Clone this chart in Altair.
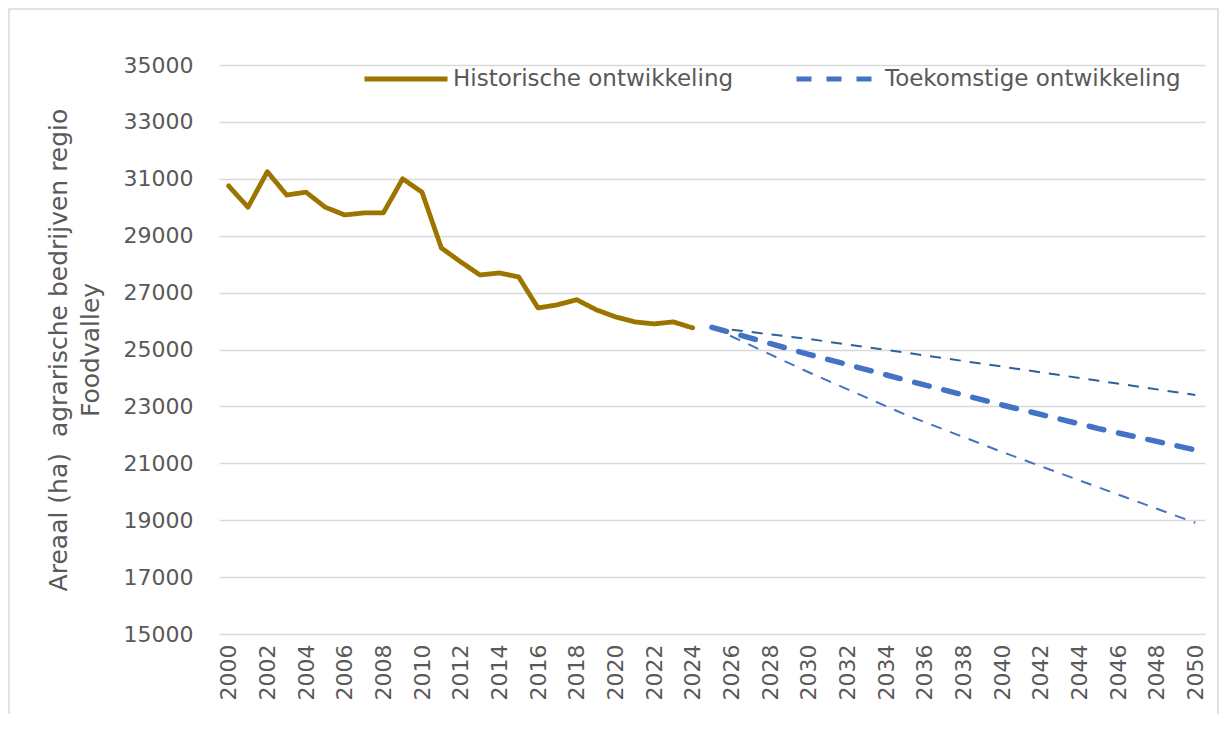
import altair as alt
import pandas as pd

# ---- data ----
hist_years = [2000, 2001, 2002, 2003, 2004, 2005, 2006, 2007, 2008, 2009,
              2010, 2011, 2012, 2013, 2014, 2015, 2016, 2017, 2018, 2019,
              2020, 2021, 2022, 2023, 2024]
hist_values = [30750, 30000, 31250, 30430, 30530, 30000, 29730, 29800, 29800, 31000,
               30530, 28570, 28080, 27620, 27690, 27550, 26460, 26570, 26750, 26400,
               26150, 25970, 25900, 25970, 25760]

proj_years = [2025, 2030, 2035, 2040, 2045, 2050]
proj_mid = [25780, 24830, 23930, 23050, 22220, 21470]
proj_high = [25780, 25370, 24890, 24400, 23900, 23400]
proj_low = [25780, 24200, 22710, 21400, 20150, 18910]

x_ticks = list(range(2000, 2051, 2))
y_ticks = list(range(15000, 35001, 2000))

HIST = "Historische ontwikkeling"
FUT = "Toekomstige ontwikkeling"
Y_TITLE = ["Areaal (ha)\u00a0 agrarische bedrijven regio", "Foodvalley"]

GOLD = "#9C7500"
BLUE = "#4472C4"
DARKBLUE = "#2C6199"
TEXT = "#595959"
GRID = "#D9D9D9"
FONT = "DejaVu Sans"

hist_df = pd.DataFrame({"jaar": hist_years, "areaal": hist_values, "reeks": [HIST] * len(hist_years)})
mid_df = pd.DataFrame({"jaar": proj_years, "areaal": proj_mid, "reeks": [FUT] * len(proj_years)})
high_df = pd.DataFrame({"jaar": proj_years, "areaal": proj_high})
low_df = pd.DataFrame({"jaar": proj_years, "areaal": proj_low})

x_enc = alt.X(
    "jaar:Q",
    scale=alt.Scale(domain=[1999.5, 2050.5], nice=False, zero=False),
    axis=alt.Axis(values=x_ticks, format="d", labelAngle=-90, grid=False, ticks=False,
                  domain=False, labelPadding=10, labelOverlap=False, labelBound=False,
                  labelFlush=False,
                  labelFont=FONT, labelFontSize=22, labelColor=TEXT, title=None),
)
y_enc = alt.Y(
    "areaal:Q",
    scale=alt.Scale(domain=[15000, 35000], nice=False, zero=False),
    axis=alt.Axis(values=y_ticks, format="d", grid=True, gridColor=GRID, gridWidth=1.5,
                  domain=False, ticks=False, labelPadding=26, labelOverlap=False,
                  labelFont=FONT, labelFontSize=22, labelColor=TEXT,
                  title=Y_TITLE,
                  titleFontWeight="normal", titleFontSize=25, titleColor=TEXT,
                  titleFont=FONT, titleLineHeight=32, titlePadding=20),
)

legend = alt.Legend(
    title=None, orient="none", legendX=143, legendY=-30, direction="horizontal",
    symbolType="stroke", symbolSize=6889, symbolStrokeWidth=5,
    labelFontSize=23, labelColor=TEXT, labelFont=FONT, labelLimit=0,
    labelOffset=3, columnPadding=52,
)

color_scale = alt.Scale(domain=[HIST, FUT], range=[GOLD, BLUE])
dash_scale = alt.Scale(domain=[HIST, FUT], range=[[1, 0], [15, 15]])

high_layer = alt.Chart(high_df).mark_line(strokeWidth=2, strokeDash=[11, 9], color=DARKBLUE).encode(
    x=x_enc, y=y_enc
)
low_layer = alt.Chart(low_df).mark_line(strokeWidth=2, strokeDash=[11, 9], color=BLUE).encode(
    x=x_enc, y=y_enc
)
hist_layer = alt.Chart(hist_df).mark_line(strokeWidth=4.8, strokeJoin="round", strokeCap="round").encode(
    x=x_enc, y=y_enc,
    color=alt.Color("reeks:N", scale=color_scale, legend=legend),
    strokeDash=alt.StrokeDash("reeks:N", scale=dash_scale, legend=legend),
)
mid_layer = alt.Chart(mid_df).mark_line(strokeWidth=5.5, strokeCap="round").encode(
    x=x_enc, y=y_enc,
    color=alt.Color("reeks:N", scale=color_scale, legend=legend),
    strokeDash=alt.StrokeDash("reeks:N", scale=dash_scale, legend=legend),
)

frame = alt.Chart(pd.DataFrame({"k": [0]})).mark_rect(
    filled=False, stroke=GRID, strokeWidth=1.5
).encode(
    x=alt.value(-210), x2=alt.value(999), y=alt.value(-56), y2=alt.value(656)
)

chart = alt.layer(frame, high_layer, low_layer, hist_layer, mid_layer).properties(
    width=986, height=569,
    padding={"left": 211, "top": 57, "right": 14, "bottom": 80},
    autosize=alt.AutoSizeParams(type="none"),
    background="white",
).configure_view(stroke=None)

chart.save("out.html", embed_options={"renderer": "svg", "actions": False})
